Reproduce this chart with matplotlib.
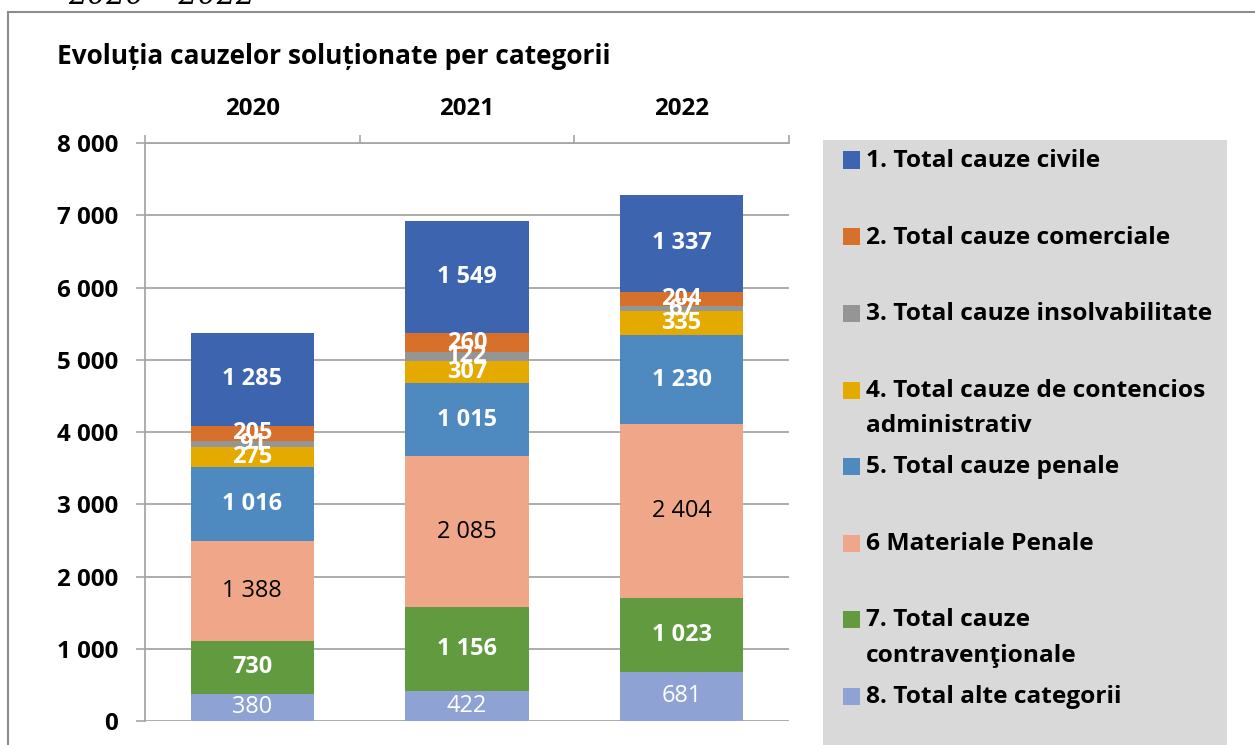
import matplotlib
matplotlib.use('Agg')
import matplotlib.pyplot as plt
from matplotlib.patches import Rectangle
from matplotlib.lines import Line2D
from matplotlib.ticker import FuncFormatter

# ---------------- data ----------------
years = ['2020', '2021', '2022']
series_names = [
    '1. Total cauze civile',
    '2. Total cauze comerciale',
    '3. Total cauze insolvabilitate',
    '4. Total cauze de contencios\nadministrativ',
    '5. Total cauze penale',
    '6 Materiale Penale',
    '7. Total cauze\ncontraven\u0163ionale',
    '8. Total alte categorii',
]
civile = [1285, 1549, 1337]
comerciale = [205, 260, 204]
insolvabilitate = [91, 122, 67]
contencios = [275, 307, 335]
penale = [1016, 1015, 1230]
materiale_penale = [1388, 2085, 2404]
contraventionale = [730, 1156, 1023]
alte = [380, 422, 681]
y_ticks = [0, 1000, 2000, 3000, 4000, 5000, 6000, 7000, 8000]

series_values = [civile, comerciale, insolvabilitate, contencios,
                 penale, materiale_penale, contraventionale, alte]
colors = ['#3D64AE', '#D6702B', '#959595', '#E5AA00',
          '#4E8AC0', '#F0A789', '#629A3F', '#8FA2D4']
label_colors = ['white', 'white', 'white', 'white', 'white', 'black', 'white', 'white']
label_weights = ['bold', 'bold', 'bold', 'bold', 'bold', 'normal', 'bold', 'normal']

FONT = ['Open Sans', 'DejaVu Sans']
plt.rcParams['font.family'] = FONT

W, H = 1255, 745
fig = plt.figure(figsize=(W / 100, H / 100), dpi=100)
renderer = fig.canvas.get_renderer()


def fx(x):
    return x / W


def fy(y):
    return 1 - y / H


def fit(t, target_w):
    bb = t.get_window_extent(renderer)
    t.set_fontsize(t.get_fontsize() * target_w / bb.width)


def fitted_size(s, target_w, weight='bold'):
    p = fig.text(0, 0, s, fontsize=16, fontweight=weight)
    fit(p, target_w)
    size = p.get_fontsize()
    p.remove()
    return size


# outer border (top and left visible)
fig.add_artist(Line2D([fx(8), fx(8)], [fy(12), fy(760)], color='#8C8C8C', lw=1.5,
                      transform=fig.transFigure))
fig.add_artist(Line2D([fx(8), fx(1260)], [fy(12), fy(12)], color='#8C8C8C', lw=1.5,
                      transform=fig.transFigure))

# clipped heading above
ttop = fig.text(fx(68), fy(4), '2020 \u2013 2022', family=['DejaVu Serif'],
                style='italic', fontsize=26, ha='left', va='baseline', color='black')
fit(ttop, 187)

# title
title = fig.text(fx(57), fy(57), 'Evolu\u021bia cauzelor solu\u021bionate per categorii',
                 fontsize=18, fontweight='bold', ha='left', va='center')
fit(title, 555)

# axes
ax = fig.add_axes([fx(145), 24 / H, (789 - 145) / W, (721 - 143) / H])
x = list(range(len(years)))
bar_w = 0.573

lab_size = fitted_size('1 285', 60)
tick_size = fitted_size('8 000', 61)
year_size = fitted_size('2020', 55)

bottoms = [0, 0, 0]
for idx in reversed(range(len(series_values))):
    vals = series_values[idx]
    ax.bar(x, vals, width=bar_w, bottom=bottoms, color=colors[idx], zorder=3,
           linewidth=0)
    for i, v in enumerate(vals):
        ax.text(x[i], bottoms[i] + v / 2, f'{v:,}'.replace(',', ' '),
                ha='center', va='center', color=label_colors[idx],
                fontweight=label_weights[idx], fontsize=lab_size, zorder=5)
    bottoms = [b + v for b, v in zip(bottoms, vals)]

ax.set_xlim(-0.5, 2.5)
ax.set_ylim(0, 8000)
ax.set_yticks(y_ticks)
ax.yaxis.set_major_formatter(FuncFormatter(lambda v, p: f'{int(v):,}'.replace(',', ' ')))
ax.yaxis.grid(True, color='#A6A6A6', lw=1.3, zorder=0)
ax.set_axisbelow(True)
ax.tick_params(axis='y', length=6.5, width=1.2, color='#A6A6A6', pad=13,
               labelsize=tick_size)

ax.xaxis.tick_top()
ax.set_xticks(x)
ax.set_xticklabels(years)
ax.set_xticks([-0.5, 0.5, 1.5, 2.5], minor=True)
ax.tick_params(axis='x', which='major', length=0, pad=16, labelsize=year_size)
ax.tick_params(axis='x', which='minor', length=5.5, width=1.2, color='#A6A6A6',
               direction='out')
for sp in ['right', 'bottom']:
    ax.spines[sp].set_visible(False)
for sp in ['left', 'top']:
    ax.spines[sp].set_color('#A6A6A6')
    ax.spines[sp].set_linewidth(1.3)
for lbl in ax.get_yticklabels() + ax.get_xticklabels():
    lbl.set_fontweight('bold')

# legend
fig.add_artist(Rectangle((fx(823), fy(760)), (1227 - 823) / W, (760 - 140) / H,
                         transform=fig.transFigure, facecolor='#D9D9D9',
                         edgecolor='none', zorder=0))
leg_y = [160, 237, 313, 390, 466, 543, 619, 696]
leg_size = fitted_size('3. Total cauze insolvabilitate', 346)
for name, col, yy in zip(series_names, colors, leg_y):
    fig.add_artist(Rectangle((fx(843), fy(yy + 8.5)), 17 / W, 17 / H,
                             transform=fig.transFigure, facecolor=col,
                             edgecolor='none', zorder=2))
    lines = name.split('\n')
    for k, ln in enumerate(lines):
        fig.text(fx(866), fy(yy + 1 + k * 35.5), ln, fontsize=leg_size, fontweight='bold',
                 ha='left', va='center', zorder=3)

fig.savefig('out.png', dpi=100)
